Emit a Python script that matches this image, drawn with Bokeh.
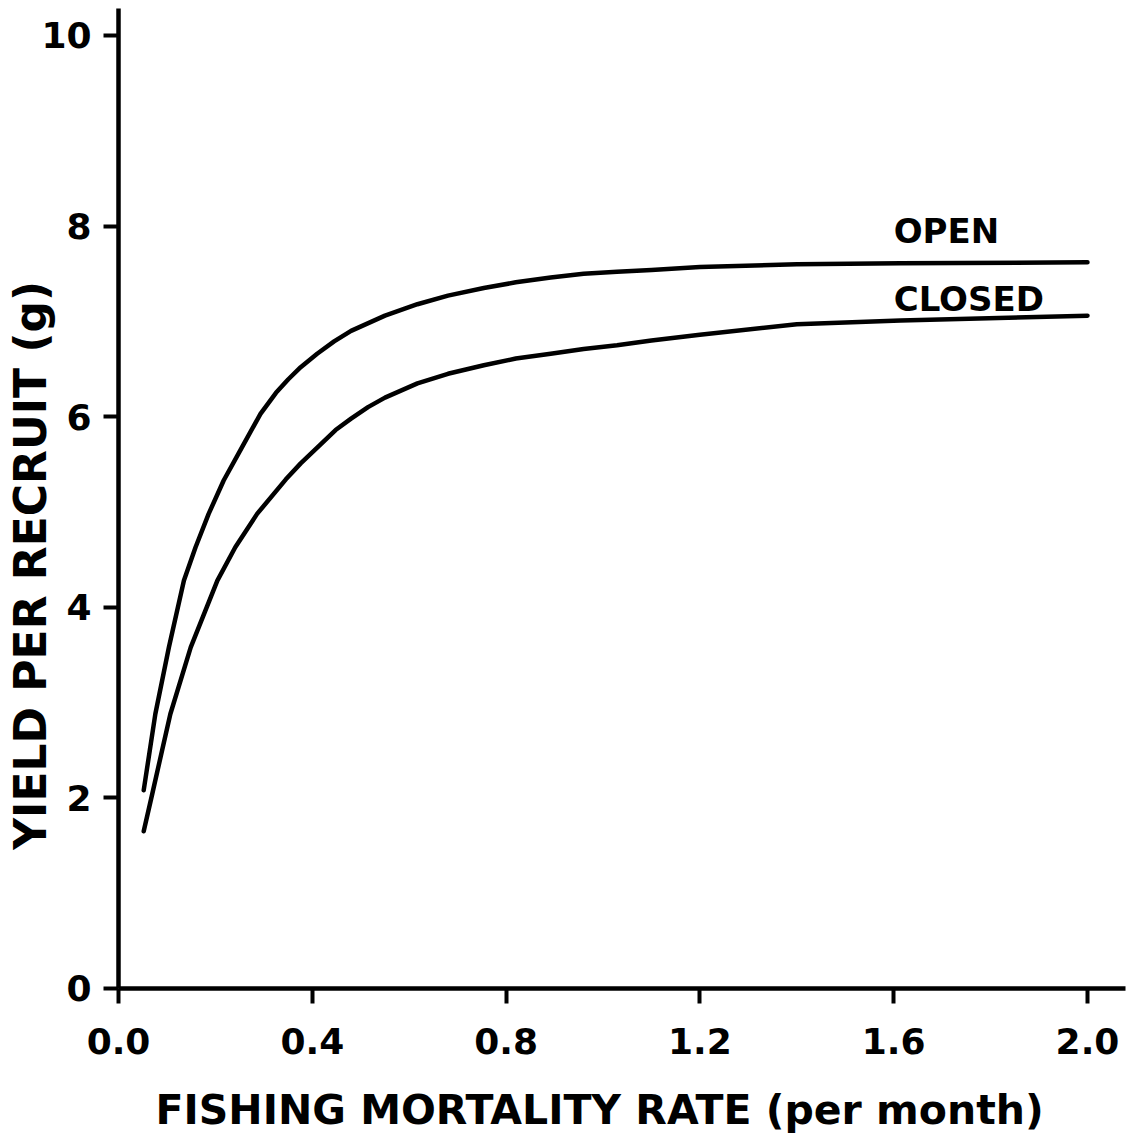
import math
from bokeh.plotting import figure
from bokeh.models import Range1d, FixedTicker, Label
from bokeh.embed import file_html
from bokeh.resources import INLINE

# Fishing mortality rate (per month) and yield per recruit (g)
open_f = [0.052, 0.076, 0.104, 0.135, 0.159, 0.186, 0.217, 0.255, 0.293, 0.325,
          0.35, 0.376, 0.41, 0.445, 0.48, 0.55, 0.617, 0.68, 0.754, 0.82,
          0.892, 0.96, 1.029, 1.1, 1.2, 1.4, 1.614, 2.0]
open_y = [2.08, 2.88, 3.58, 4.28, 4.63, 4.98, 5.33, 5.68, 6.03, 6.25,
          6.39, 6.52, 6.66, 6.79, 6.90, 7.06, 7.18, 7.27, 7.35, 7.41,
          7.46, 7.50, 7.52, 7.54, 7.57, 7.60, 7.61, 7.62]

closed_f = [0.052, 0.07, 0.09, 0.107, 0.149, 0.204, 0.241, 0.286, 0.345, 0.376,
            0.415, 0.448, 0.48, 0.515, 0.55, 0.617, 0.68, 0.754, 0.82, 0.892,
            0.96, 1.029, 1.1, 1.2, 1.4, 1.614, 2.0]
closed_y = [1.65, 2.05, 2.5, 2.88, 3.58, 4.28, 4.63, 4.98, 5.34, 5.51,
            5.70, 5.86, 5.98, 6.10, 6.20, 6.35, 6.45, 6.54, 6.61, 6.66,
            6.71, 6.75, 6.80, 6.86, 6.97, 7.01, 7.06]

series_names = ["OPEN", "CLOSED"]

x_ticks = [0.0, 0.4, 0.8, 1.2, 1.6, 2.0]
x_tick_labels = ["0.0", "0.4", "0.8", "1.2", "1.6", "2.0"]
y_ticks = [0, 2, 4, 6, 8, 10]
y_tick_labels = ["0", "2", "4", "6", "8", "10"]

x_title = "FISHING MORTALITY RATE (per month)"
y_title = "YIELD PER RECRUIT (g)"

FONT = "DejaVu Sans"

# The frame fills the whole canvas; both axes are pinned at zero inside it,
# which leaves room around them for the tick labels and the titles.
p = figure(width=1127, height=1137, output_backend="svg", toolbar_location=None,
           x_range=Range1d(-0.2436, 2.0826), y_range=Range1d(-1.5635, 10.367),
           min_border=0)
p.outline_line_color = None
p.xgrid.visible = False
p.ygrid.visible = False
p.background_fill_color = "white"
p.border_fill_color = "white"

for ax in (p.xaxis[0], p.yaxis[0]):
    ax.fixed_location = 0
    ax.axis_line_width = 4.5
    ax.axis_line_color = "black"
    ax.major_tick_line_width = 4
    ax.major_tick_line_color = "black"
    ax.major_tick_in = 0
    ax.major_tick_out = 15
    ax.minor_tick_line_color = None
    ax.major_label_text_font = FONT
    ax.major_label_text_font_style = "bold"
    ax.major_label_text_font_size = "36px"
    ax.major_label_text_color = "black"

p.xaxis.ticker = FixedTicker(ticks=x_ticks)
p.xaxis.major_label_overrides = dict(zip(x_ticks, x_tick_labels))
p.xaxis.major_label_standoff = 25
p.xaxis.bounds = (0, 2.078)
p.yaxis.ticker = FixedTicker(ticks=y_ticks)
p.yaxis.major_label_overrides = dict(zip(y_ticks, y_tick_labels))
p.yaxis.major_label_standoff = 12
p.yaxis.bounds = (0, 10.28)

p.line(open_f, open_y, line_color="black", line_width=4.5,
       line_join="round", line_cap="round")
p.line(closed_f, closed_y, line_color="black", line_width=4.5,
       line_join="round", line_cap="round")

# curve names, set just above the right-hand end of each curve
for name, ys, dy in zip(series_names, (open_y, closed_y), (0.33, 0.18)):
    p.add_layout(Label(x=1.6, y=ys[-1] + dy, text=name, text_font=FONT,
                       text_font_style="bold", text_font_size="34px",
                       text_color="black", text_baseline="middle",
                       text_align="left"))

# axis titles
p.add_layout(Label(x=0.993, y=-1.27, text=x_title, text_font=FONT,
                   text_font_style="bold", text_font_size="41px",
                   text_color="black", text_baseline="middle",
                   text_align="center"))
p.add_layout(Label(x=-0.182, y=4.44, text=y_title, text_font=FONT,
                   text_font_style="bold", text_font_size="44px",
                   text_color="black", text_baseline="middle",
                   text_align="center", angle=math.pi / 2))

open("out.html", "w").write(file_html(p, INLINE))
